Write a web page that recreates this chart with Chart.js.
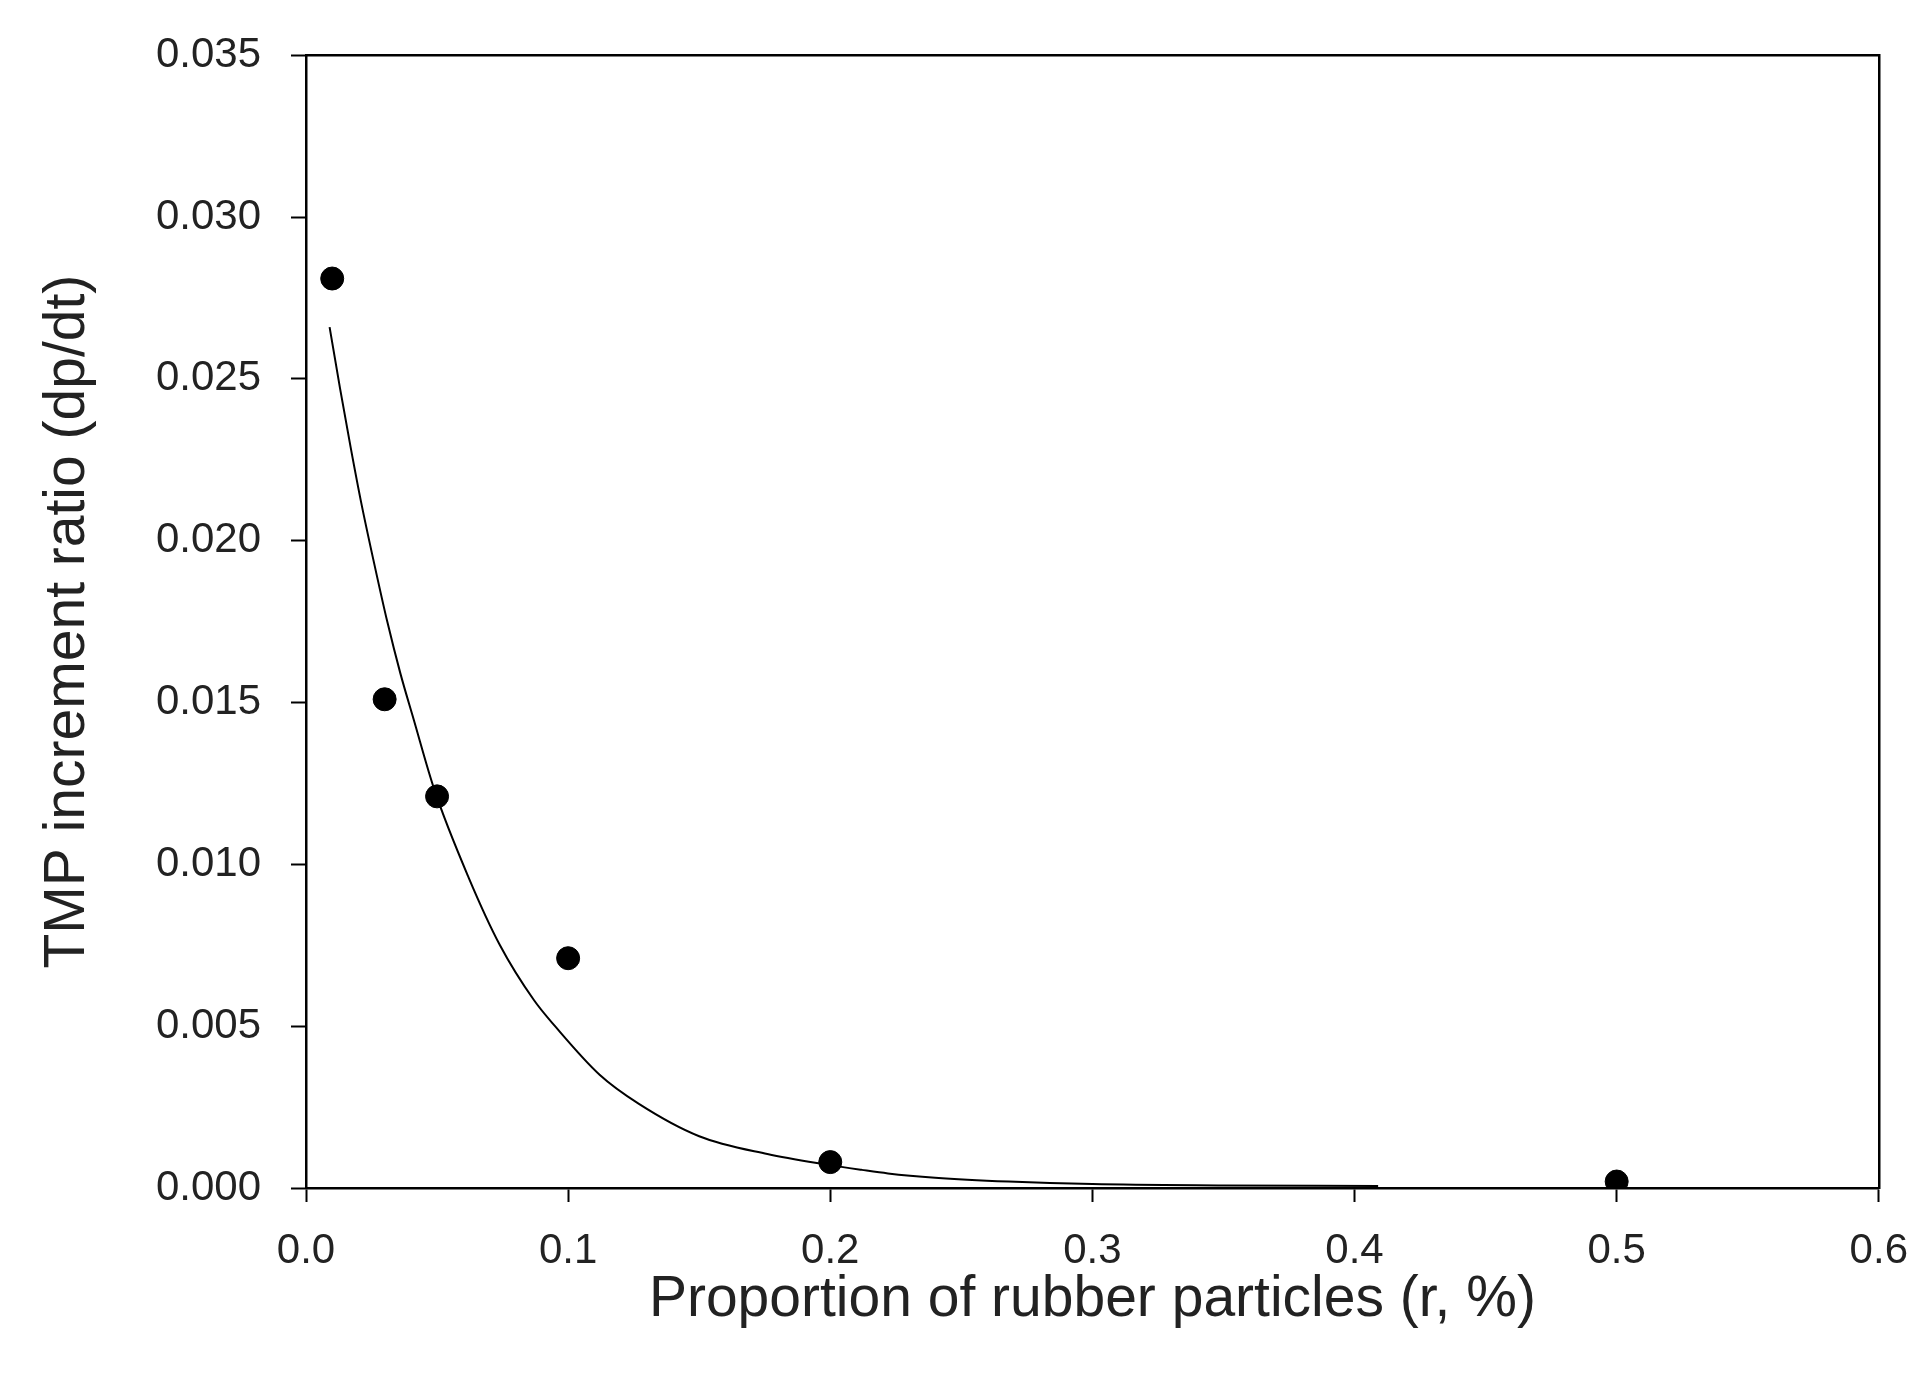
<!DOCTYPE html>
<html>
<head>
<meta charset="utf-8">
<script src="https://cdn.jsdelivr.net/npm/chart.js@4.4.1/dist/chart.umd.min.js"></script>
<style>
    body { margin: 0; background: #fff; }
    #wrap { width: 1932px; height: 1380px; }
</style>
</head>
<body>
<div id="wrap"><canvas id="tmpChart" width="1932" height="1380"></canvas></div>
<script>
// measured points
const rubberX = [0.01, 0.03, 0.05, 0.1, 0.2, 0.5];
const tmpRatio = [0.0281, 0.0151, 0.0121, 0.0071, 0.0008, 0.0002];

// fitted curve
const fitX = [0.009, 0.013, 0.017, 0.021, 0.026, 0.031, 0.036, 0.041, 0.049, 0.062, 0.074, 0.087, 0.095, 0.112, 0.127, 0.150, 0.176, 0.198, 0.212, 0.222, 0.240, 0.268, 0.300, 0.350, 0.409];
const fitY = [0.0266, 0.0247, 0.0229, 0.0212, 0.0193, 0.0175, 0.0159, 0.0145, 0.0123, 0.0096, 0.0075, 0.0058, 0.0050, 0.0035, 0.0026, 0.0016, 0.00105, 0.00073, 0.00056, 0.00045, 0.00032, 0.0002, 0.00012, 0.00008, 0.00006];

const xTicks = [0, 0.1, 0.2, 0.3, 0.4, 0.5, 0.6];
const yTicks = [0, 0.005, 0.010, 0.015, 0.020, 0.025, 0.030, 0.035];

const tickFont = { family: "'Liberation Sans', Arial, sans-serif", size: 42 };
const titleFont = { family: "'Liberation Sans', Arial, sans-serif", size: 57 };
const textColor = '#222';

const ctx = document.getElementById('tmpChart');

new Chart(ctx, {
    type: 'scatter',
    data: {
        datasets: [
            {
                label: 'Measured',
                data: rubberX.map((x, i) => ({ x: x, y: tmpRatio[i] })),
                backgroundColor: '#000',
                borderColor: '#000',
                pointRadius: 11.5,
                pointHoverRadius: 11.5,
                showLine: false,
                order: 0
            },
            {
                label: 'Fit',
                data: fitX.map((x, i) => ({ x: x, y: fitY[i] })),
                borderColor: '#000',
                borderWidth: 2,
                pointRadius: 0,
                showLine: true,
                cubicInterpolationMode: 'monotone',
                order: 1
            }
        ]
    },
    options: {
        responsive: false,
        animation: false,
        layout: {
            padding: { top: 54, right: 51, bottom: 0, left: 0 }
        },
        plugins: {
            legend: { display: false },
            tooltip: { enabled: false }
        },
        scales: {
            x: {
                type: 'linear',
                position: 'bottom',
                min: 0,
                max: 0.6,
                afterBuildTicks: scale => { scale.ticks = xTicks.map(v => ({ value: v })); },
                afterFit: scale => { scale.height = 192; },
                ticks: {
                    color: textColor,
                    font: tickFont,
                    padding: 24,
                    callback: v => v.toFixed(1)
                },
                grid: {
                    drawOnChartArea: false,
                    drawTicks: true,
                    tickLength: 14,
                    tickWidth: 2,
                    tickColor: '#000'
                },
                border: { display: true, color: '#000', width: 2.5 },
                title: {
                    display: true,
                    text: 'Proportion of rubber particles (r, %)',
                    color: textColor,
                    font: titleFont,
                    padding: { top: 0, bottom: 46 }
                }
            },
            y: {
                type: 'linear',
                position: 'left',
                min: 0,
                max: 0.035,
                afterBuildTicks: scale => { scale.ticks = yTicks.map(v => ({ value: v })); },
                afterFit: scale => { scale.width = 306; },
                ticks: {
                    color: textColor,
                    font: tickFont,
                    padding: 30,
                    callback: v => v.toFixed(3)
                },
                grid: {
                    drawOnChartArea: false,
                    drawTicks: true,
                    tickLength: 15,
                    tickWidth: 2,
                    tickColor: '#000'
                },
                border: { display: true, color: '#000', width: 2.5 },
                title: {
                    display: true,
                    text: 'TMP increment ratio (dp/dt)',
                    color: textColor,
                    font: titleFont,
                    padding: { top: 34, bottom: 0 }
                }
            },
            xTop: {
                type: 'linear',
                position: 'top',
                min: 0,
                max: 0.6,
                afterFit: scale => { scale.height = 0; },
                ticks: { display: false },
                grid: { display: true, drawOnChartArea: false, drawTicks: false },
                border: { display: true, color: '#000', width: 2.5 }
            },
            yRight: {
                type: 'linear',
                position: 'right',
                min: 0,
                max: 0.035,
                afterFit: scale => { scale.width = 0; },
                ticks: { display: false },
                grid: { display: true, drawOnChartArea: false, drawTicks: false },
                border: { display: true, color: '#000', width: 2.5 }
            }
        }
    }
});
</script>
</body>
</html>
